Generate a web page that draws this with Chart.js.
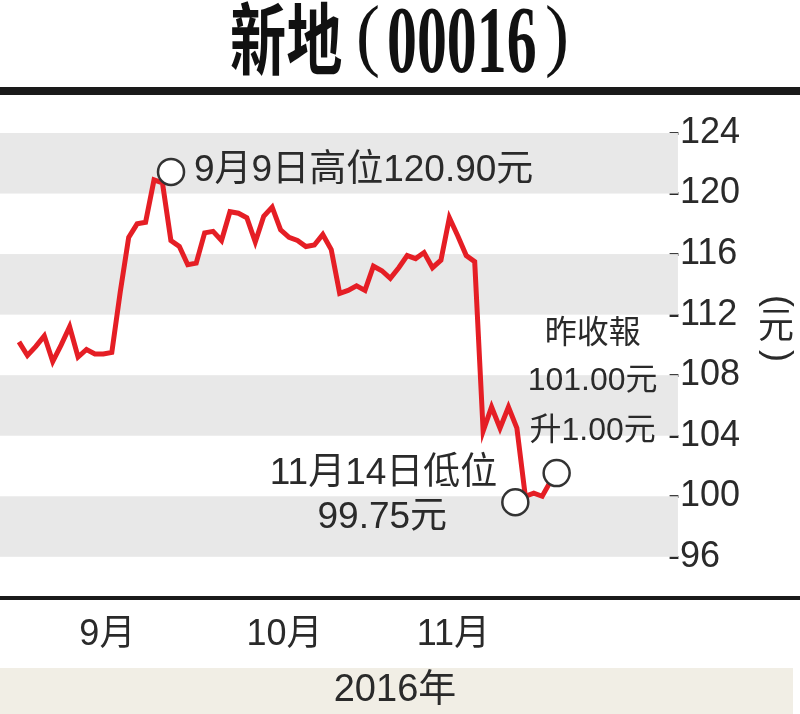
<!DOCTYPE html>
<html>
<head>
<meta charset="utf-8">
<script src="https://cdn.jsdelivr.net/npm/chart.js@4.4.1/dist/chart.umd.min.js"></script>
<style>
  html, body { margin: 0; padding: 0; background: #fff; }
  #wrap { width: 800px; height: 714px; }
</style>
</head>
<body>
<div id="wrap"><canvas id="stockChart" width="800" height="714"></canvas></div>
<script>
// trading days, 18 Aug - 17 Nov 2016
const dates = [
  '8/18', '8/19', '8/22', '8/23', '8/24', '8/25', '8/26', '8/29', '8/30', '8/31',
  '9/1', '9/2', '9/5', '9/6', '9/7', '9/8', '9/9', '9/12', '9/13', '9/14',
  '9/15', '9/19', '9/20', '9/21', '9/22', '9/23', '9/26', '9/27', '9/28', '9/29',
  '9/30', '10/3', '10/4', '10/5', '10/6', '10/7', '10/11', '10/12', '10/13', '10/14',
  '10/17', '10/18', '10/19', '10/20', '10/21', '10/24', '10/25', '10/26', '10/27', '10/28',
  '10/31', '11/1', '11/2', '11/3', '11/4', '11/7', '11/8', '11/9', '11/10', '11/11',
  '11/14', '11/15', '11/16', '11/17'
];
const closes = [
  110.2, 109.3, 109.9, 110.6, 108.9, 110.0, 111.2, 109.2, 109.7, 109.4,
  109.4, 109.5, 113.5, 117.1, 118.0, 118.1, 120.9, 120.7, 116.9, 116.5,
  115.3, 115.4, 117.4, 117.5, 116.9, 118.8, 118.7, 118.4, 116.8, 118.5,
  119.1, 117.6, 117.1, 116.9, 116.5, 116.6, 117.3, 116.3, 113.4, 113.6,
  113.9, 113.6, 115.2, 114.9, 114.4, 115.1, 115.9, 115.7, 116.1, 115.1,
  115.6, 118.4, 117.2, 115.9, 115.5, 104.3, 105.9, 104.5, 105.9, 104.5,
  100.0, 100.2, 100.0, 101.0
];
const yTicks = [96, 100, 104, 108, 112, 116, 120, 124];

const titleName = '新地';
const titleCode = '00016';
const yearText = '2016年';
const unitText = ['(', '元', ')'];
const highIndex = 16;
const lowIndex = 60;
const lastIndex = 63;
const highNote = '9月9日高位120.90元';
const lowNote = ['11月14日低位', '99.75元'];
const lastNote = ['昨收報', '101.00元', '升1.00元'];

// first trading day of each month gets a label
const monthStarts = [];
for (let i = 1; i < dates.length; i++) {
  if (dates[i].split('/')[0] !== dates[i - 1].split('/')[0]) monthStarts.push(i);
}
const monthName = i => dates[i].split('/')[0] + '月';

const textFont = '"Liberation Sans", "Noto Sans CJK TC", sans-serif';
const textColor = '#2a2a2a';
const bandColor = '#e8e8e8';
const lineColor = '#e51e25';

function circleAt(ctx, x, y) {
  ctx.beginPath();
  ctx.arc(x, y, 13, 0, Math.PI * 2);
  ctx.fillStyle = '#fff';
  ctx.fill();
  ctx.lineWidth = 2.5;
  ctx.strokeStyle = '#333';
  ctx.stroke();
}

function squeezedText(ctx, text, font, sx, x, y, baseline) {
  ctx.save();
  ctx.translate(x, y);
  ctx.scale(sx, 1);
  ctx.font = font;
  ctx.textAlign = 'left';
  ctx.textBaseline = baseline;
  ctx.fillText(text, 0, 0);
  ctx.restore();
}

function rotatedText(ctx, text, x, y) {
  ctx.save();
  ctx.translate(x, y);
  ctx.rotate(Math.PI / 2);
  ctx.textAlign = 'center';
  ctx.textBaseline = 'middle';
  ctx.fillText(text, 0, 0);
  ctx.restore();
}

const decorations = {
  id: 'decorations',
  beforeDatasetsDraw(chart) {
    const { ctx, chartArea, scales: { y } } = chart;
    ctx.save();
    ctx.fillStyle = bandColor;
    for (let i = yTicks.length - 1; i > 0; i -= 2) {
      const top = y.getPixelForValue(yTicks[i]);
      const bottom = y.getPixelForValue(yTicks[i - 1]);
      ctx.fillRect(0, top, chartArea.right + 10, bottom - top);
    }
    ctx.restore();
  },
  afterDraw(chart) {
    const { ctx } = chart;
    const pts = chart.getDatasetMeta(0).data;
    ctx.save();

    // title: condensed serif look
    ctx.fillStyle = '#111';
    squeezedText(ctx, titleName, 'bold 78px "Noto Sans CJK TC", sans-serif', 0.72, 230, 39, 'middle');
    squeezedText(ctx, '(', '80px "Liberation Serif", serif', 0.9, 356, 61, 'alphabetic');
    squeezedText(ctx, titleCode, 'bold 95px "Liberation Serif", serif', 0.63, 387, 72, 'alphabetic');
    squeezedText(ctx, ')', '80px "Liberation Serif", serif', 0.9, 545, 61, 'alphabetic');

    // rules
    ctx.fillStyle = '#1a1a1a';
    ctx.fillRect(0, 87, 800, 8);
    ctx.fillRect(0, 596, 800, 4);

    // year bar
    ctx.fillStyle = '#f1eee5';
    ctx.fillRect(0, 668, 793, 46);
    ctx.fillStyle = textColor;
    ctx.font = '38px ' + textFont;
    ctx.textAlign = 'center';
    ctx.textBaseline = 'middle';
    ctx.fillText(yearText, 395, 691);

    // unit, vertical with turned brackets
    ctx.font = '36px ' + textFont;
    rotatedText(ctx, unitText[0], 777, 301);
    ctx.fillText(unitText[1], 776, 328);
    rotatedText(ctx, unitText[2], 777, 356);

    // annotations
    ctx.font = '37px ' + textFont;
    const hi = pts[highIndex];
    circleAt(ctx, hi.x + 17, hi.y - 8);
    ctx.fillStyle = textColor;
    ctx.textAlign = 'left';
    ctx.fillText(highNote, hi.x + 40, hi.y - 9);

    const lo = pts[lowIndex];
    circleAt(ctx, lo.x - 10, lo.y + 6);
    ctx.fillStyle = textColor;
    ctx.textAlign = 'right';
    ctx.fillText(lowNote[0], lo.x - 28, lo.y - 22);
    ctx.textAlign = 'center';
    ctx.fillText(lowNote[1], lo.x - 143, lo.y + 22);

    const last = pts[lastIndex];
    circleAt(ctx, last.x + 6, last.y - 8);
    ctx.fillStyle = textColor;
    ctx.font = '32px ' + textFont;
    ctx.textAlign = 'center';
    ctx.fillText(lastNote[0], last.x + 42, last.y - 147);
    ctx.fillText(lastNote[1], last.x + 42, last.y - 100);
    ctx.fillText(lastNote[2], last.x + 42, last.y - 50);

    ctx.restore();
  }
};

new Chart(document.getElementById('stockChart'), {
  type: 'line',
  data: {
    datasets: [{
      data: closes.map((v, i) => ({ x: i, y: v })),
      borderColor: lineColor,
      borderWidth: 5,
      pointRadius: 0,
      tension: 0,
      fill: false
    }]
  },
  options: {
    responsive: false,
    animation: false,
    layout: { padding: { top: 133, right: 60, bottom: 0, left: 0 } },
    plugins: { legend: { display: false }, tooltip: { enabled: false } },
    scales: {
      x: {
        type: 'linear',
        min: -2.25,
        max: 76.9,
        grid: { display: false, drawTicks: false },
        border: { display: false },
        afterBuildTicks: scale => { scale.ticks = monthStarts.map(i => ({ value: i })); },
        ticks: {
          padding: 57,
          labelOffset: 4,
          maxRotation: 0,
          color: textColor,
          font: { family: textFont, size: 36 },
          callback: value => monthName(value)
        }
      },
      y: {
        position: 'right',
        min: 96,
        max: 124,
        grid: { display: false, drawTicks: false },
        border: { display: false },
        afterBuildTicks: scale => { scale.ticks = yTicks.map(v => ({ value: v })); },
        ticks: {
          padding: 0,
          color: textColor,
          font: { family: textFont, size: 36 },
          callback: value => '-' + value
        }
      }
    }
  },
  plugins: [decorations]
});
</script>
</body>
</html>
